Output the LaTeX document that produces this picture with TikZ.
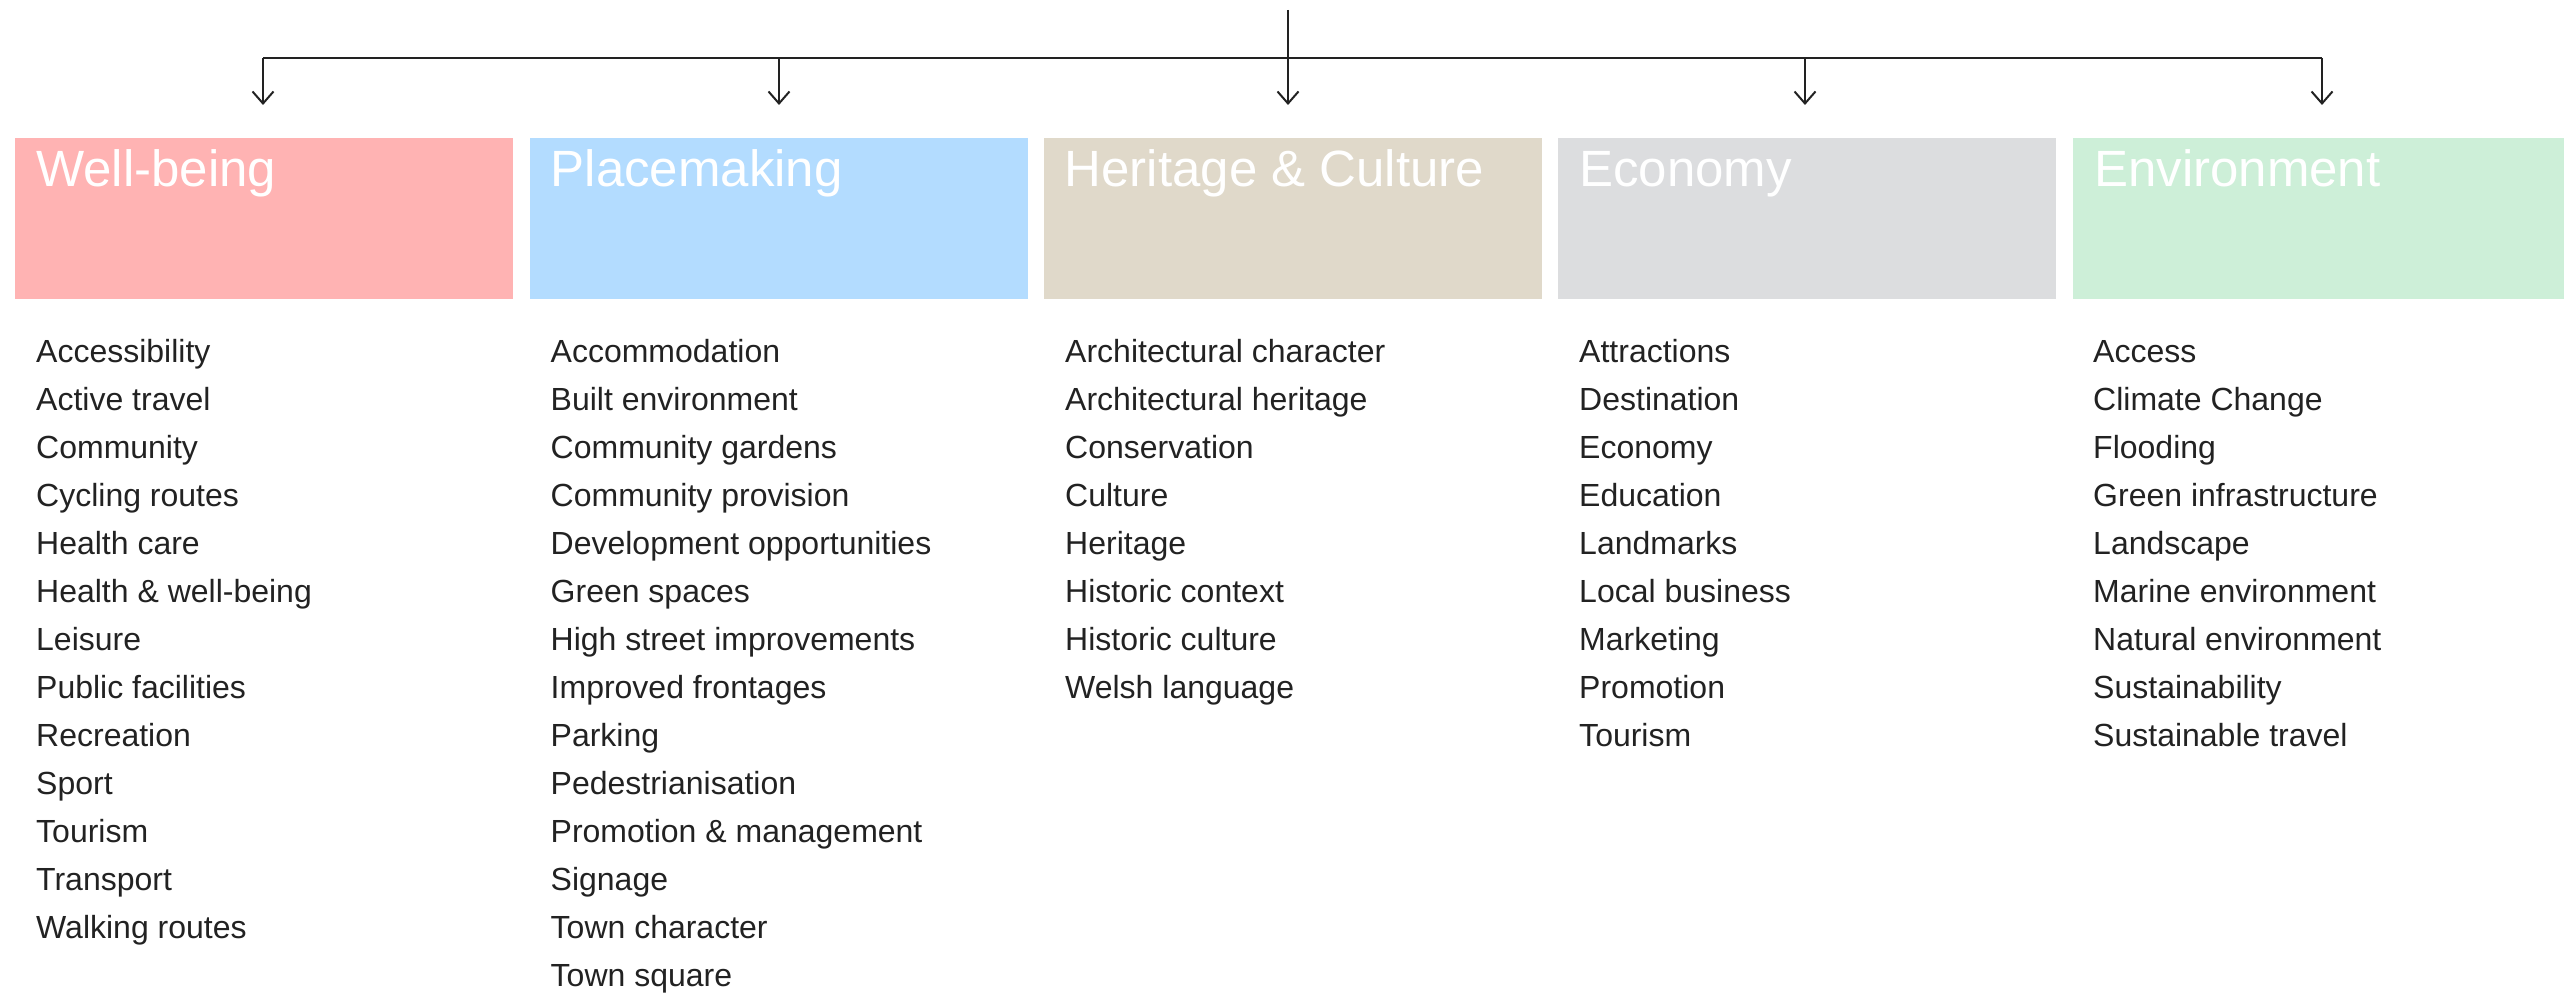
\documentclass[tikz,border=0pt]{standalone}
\usepackage{fontspec}
\setmainfont{Liberation Sans}
\usetikzlibrary{arrows.meta}
\definecolor{cwell}{HTML}{FFB3B3}
\definecolor{cplace}{HTML}{B3DCFF}
\definecolor{cherit}{HTML}{E0D9CA}
\definecolor{cecon}{HTML}{DCDDDF}
\definecolor{cenv}{HTML}{CDEFD8}
\definecolor{ink}{HTML}{222222}
\tikzset{
  catbox/.style={rectangle, draw=none, inner sep=0pt, minimum width=498pt, minimum height=161pt, anchor=north west},
  cattitle/.style={anchor=base west, inner sep=0pt, text=white, font=\fontsize{51}{60}\selectfont},
  itemtxt/.style={anchor=base west, inner sep=0pt, text=ink, font=\fontsize{32}{40}\selectfont},
  conn/.style={draw=ink, line width=2pt},
  arr/.style={conn, -{Straight Barb[length=12pt, width=21pt, line width=2pt]}},
}
\begin{document}
\begin{tikzpicture}[x=1pt, y=-1pt]
\useasboundingbox (0,0) rectangle (2564,995);
\node[catbox, fill=cwell] (b1) at (15,138) {};
\node[catbox, fill=cplace] (b2) at (529.5,138) {};
\node[catbox, fill=cherit] (b3) at (1043.5,138) {};
\node[catbox, fill=cecon] (b4) at (1558,138) {};
\node[catbox, fill=cenv] (b5) at (2073,138) {};
\node[cattitle] (t1) at (36,187) {Well-being};
\node[cattitle] (t2) at (550.5,187) {Placemaking};
\node[cattitle] (t3) at (1064.5,187) {Heritage \& Culture};
\node[cattitle] (t4) at (1579,187) {Economy};
\node[cattitle] (t5) at (2094,187) {Environment};
\coordinate (top) at (1288,10);
\coordinate (bar) at (1288,58);
\coordinate (a1) at (263,58);
\coordinate (a2) at (779,58);
\coordinate (a3) at (1288,58);
\coordinate (a4) at (1805,58);
\coordinate (a5) at (2322,58);
\draw[conn] (top) -- (bar);
\draw[conn] (a1) -- (a5);
\foreach \i in {1,...,5}
  \draw[arr] (a\i) -- (a\i |- 0,105);
\foreach \t [count=\i] in {Accessibility,Active travel,Community,Cycling routes,Health care,Health \& well-being,Leisure,Public facilities,Recreation,Sport,Tourism,Transport,Walking routes}
  \node[itemtxt, name=w\i] at (36,{362+48*(\i-1)}) {\t};
\foreach \t [count=\i] in {Accommodation,Built environment,Community gardens,Community provision,Development opportunities,Green spaces,High street improvements,Improved frontages,Parking,Pedestrianisation,Promotion \& management,Signage,Town character,Town square}
  \node[itemtxt, name=p\i] at (550.5,{362+48*(\i-1)}) {\t};
\foreach \t [count=\i] in {Architectural character,Architectural heritage,Conservation,Culture,Heritage,Historic context,Historic culture,Welsh language}
  \node[itemtxt, name=h\i] at (1065,{362+48*(\i-1)}) {\t};
\foreach \t [count=\i] in {Attractions,Destination,Economy,Education,Landmarks,Local business,Marketing,Promotion,Tourism}
  \node[itemtxt, name=e\i] at (1579,{362+48*(\i-1)}) {\t};
\foreach \t [count=\i] in {Access,Climate Change,Flooding,Green infrastructure,Landscape,Marine environment,Natural environment,Sustainability,Sustainable travel}
  \node[itemtxt, name=v\i] at (2093,{362+48*(\i-1)}) {\t};
\end{tikzpicture}
\end{document}
